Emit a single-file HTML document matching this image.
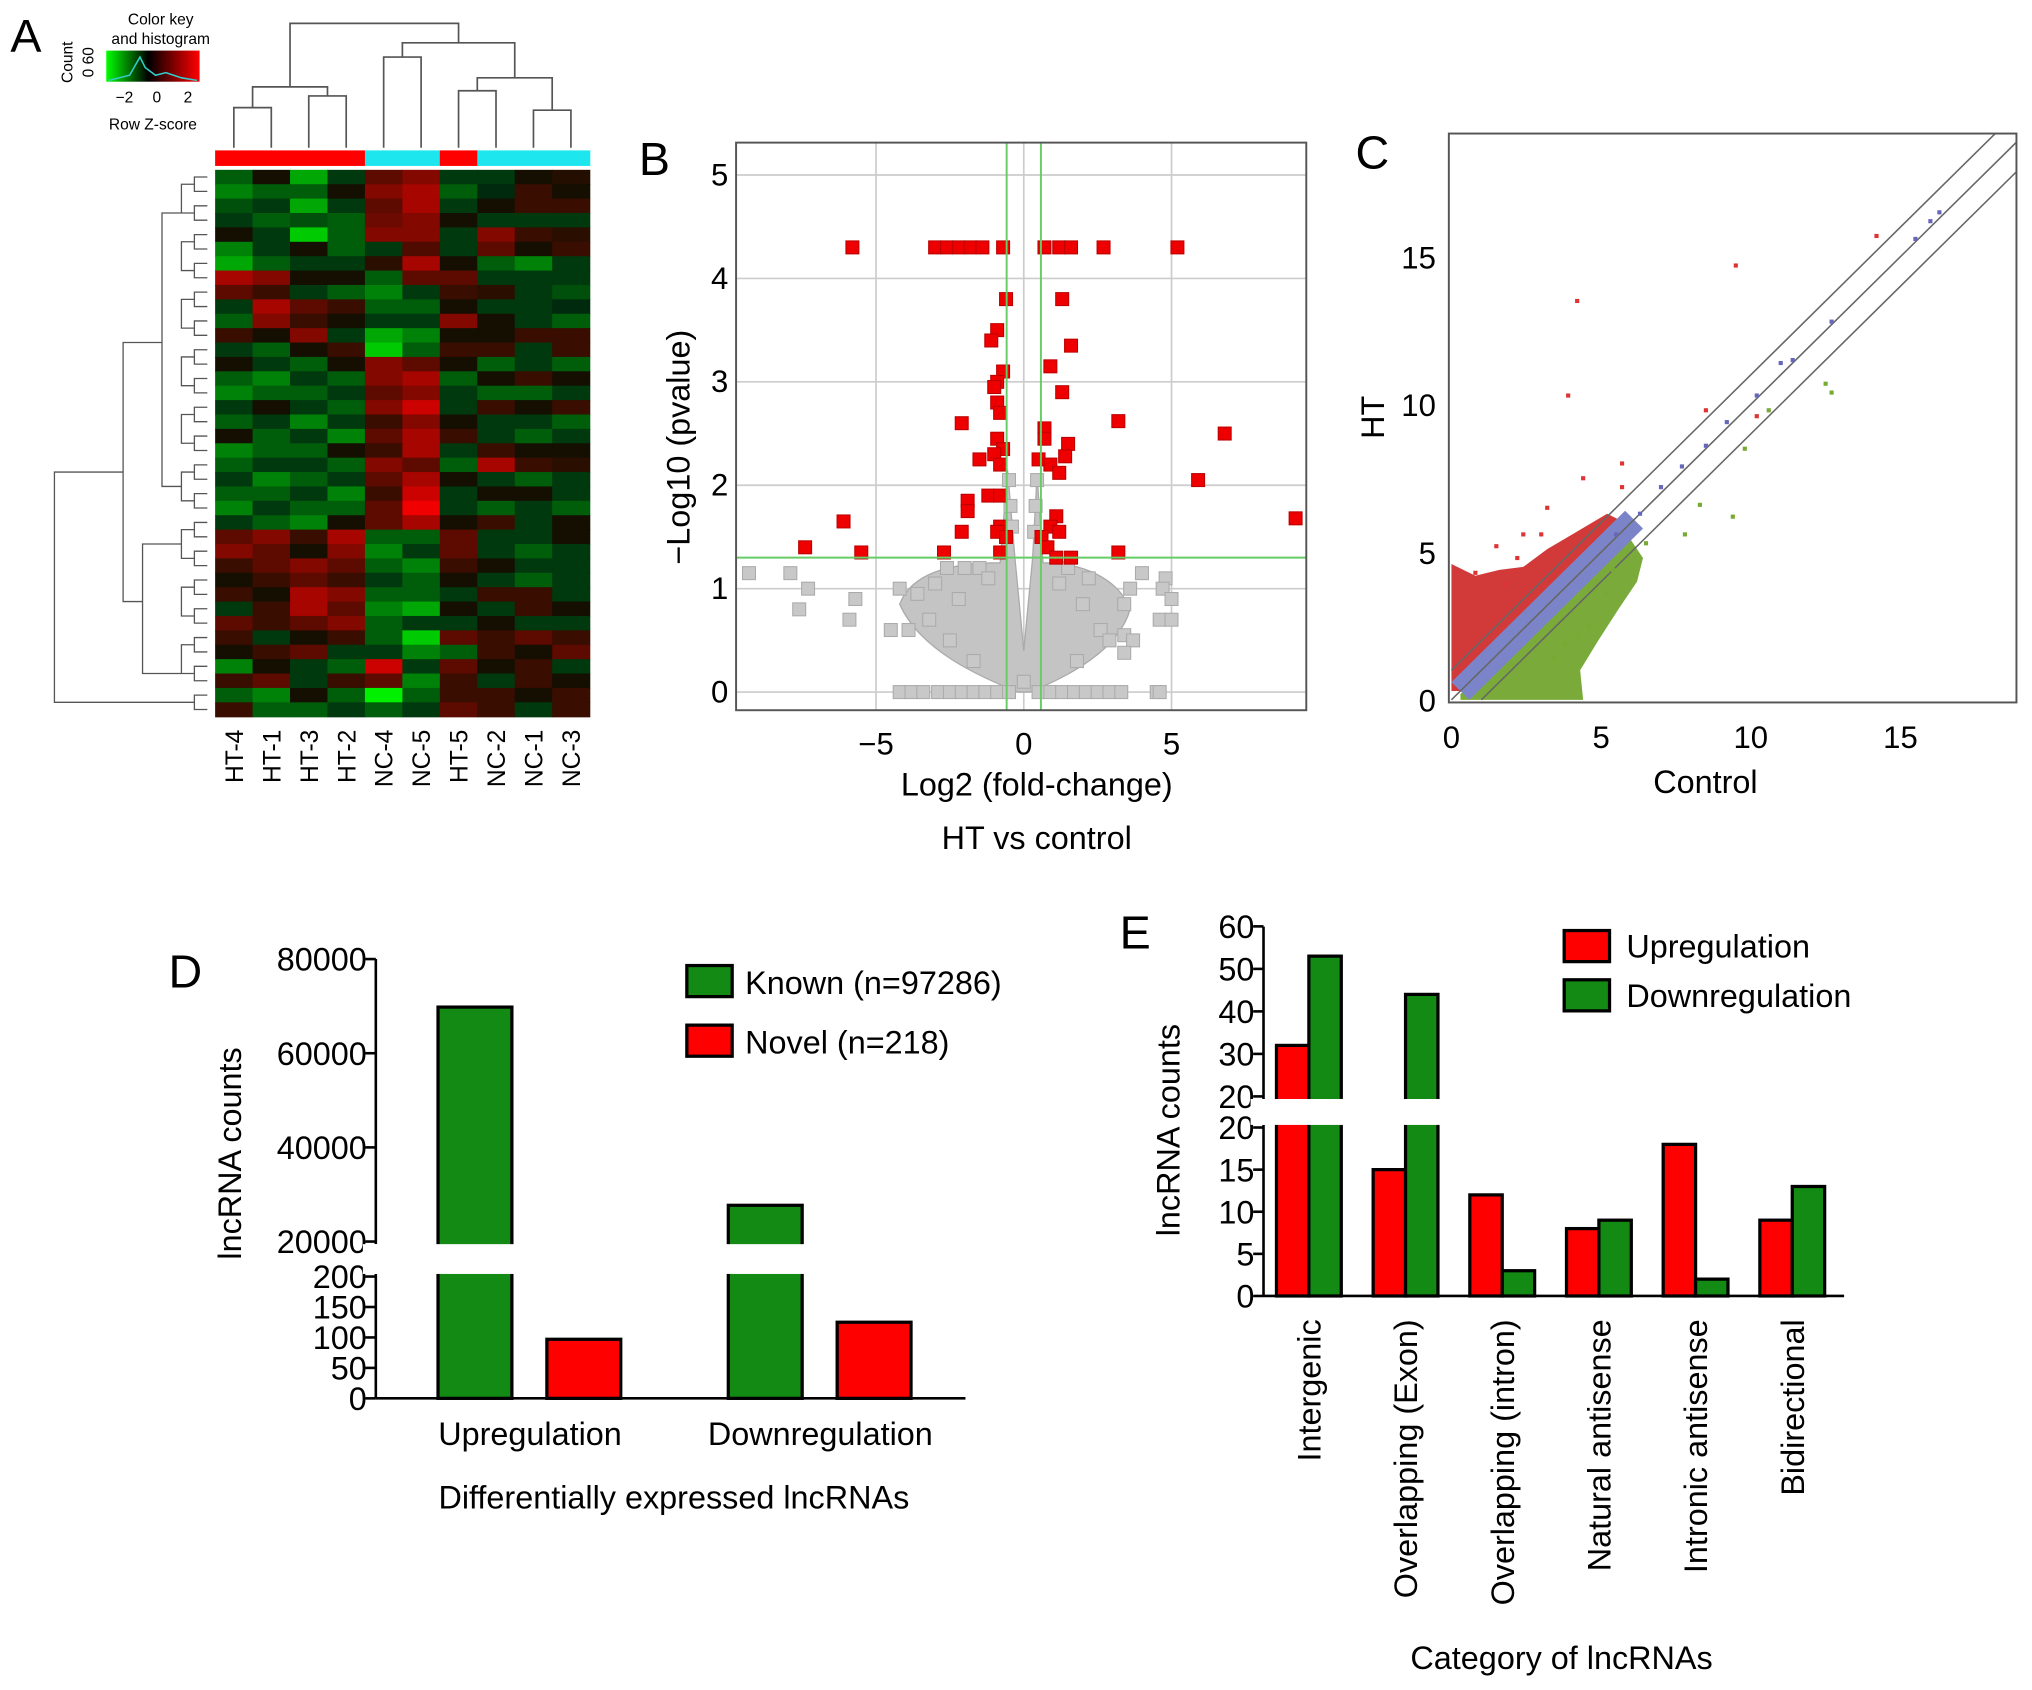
<!DOCTYPE html>
<html><head><meta charset="utf-8"><style>
html,body{margin:0;padding:0;background:#fff;}
svg{display:block;font-family:"Liberation Sans",Arial,sans-serif;}
</style></head><body>
<svg id="fig" width="2032" height="1690" viewBox="0 0 1568 1304" xmlns="http://www.w3.org/2000/svg">
<rect width="1568" height="1304" fill="#fff"/>
<g id="A"></g>
<g id="B"></g>
<g id="C"></g>
<g id="D"></g>
<g id="E"></g>
</svg>
<script>
const NS="http://www.w3.org/2000/svg";
// ---------- DATA ----------
const heatCols=["HT-4","HT-1","HT-3","HT-2","NC-4","NC-5","HT-5","NC-2","NC-1","NC-3"];
const heatGroups=["HT","HT","HT","HT","NC","NC","HT","NC","NC","NC"];
const heatRows=[
[-1,0,-2,-0.5,1,1.5,-0.5,-0.5,0,0.2],
[-1.5,-1,-1,0,1.5,2,-1,-0.3,0.5,0],
[-0.8,-0.5,-2,-0.5,1,2,-0.5,0,0.5,0.5],
[-0.5,-1,-0.8,-1,1.2,1.5,0,-0.5,-0.5,-0.5],
[0,-0.5,-2.5,-1,1.5,1.5,-0.5,1.5,0.5,0.3],
[-1.5,-0.5,0,-1,-0.5,0.8,-0.5,1,0,0.5],
[-2,-1,-0.5,-0.5,0.3,2,0,-1,-1.5,-0.5],
[2,1.5,0,0,-1,1,1,-0.5,-0.5,-0.5],
[1,0.5,-0.5,-1,-1.5,-0.5,0.5,0.3,-0.5,-0.8],
[-0.5,2,1,0.5,-1,-1,0,-0.5,-0.5,-0.3],
[-1,1.5,0.5,0,-0.5,-0.5,1.5,0,-0.5,-1],
[0.5,0,1.5,-0.5,-2,-1.5,0,0,0.5,0.5],
[-0.5,-1,0,0.5,-2.5,-1,0.5,0.5,-0.5,0.5],
[0,-0.5,-1,0,1.5,1,0,-1,-0.5,-1],
[-1,-1.5,-0.5,-1,1.5,2,-1,0,0.5,0],
[-1.5,-1,-1,-0.5,1,1.5,-0.5,-1,-1,-0.5],
[-0.5,0,-0.5,-1,1.5,2.5,-0.5,0.5,0,0.5],
[-1,-0.5,-1.5,-0.5,0.5,1.5,0,-0.5,-0.5,-1],
[0,-1,-0.5,-1.5,1,2,0.5,-0.5,-1,-0.5],
[-1.5,-1,-1,0,0.5,2,-0.5,0.5,0,0],
[-1,-0.5,-0.5,-1,1.5,1,-1,2,0.5,0.3],
[-0.5,-1.5,-1,-0.5,1,2,0,-0.5,-1,-0.5],
[-1,-1,-0.5,-1.5,0.5,2.5,-0.5,0,0,-0.5],
[-1.5,-0.5,-1,-1,1,3,-0.5,-1,-0.5,-1],
[-0.5,-1,-1.5,0,1,2,0,0.5,-0.5,0],
[1,1.5,0.5,2,-1,-1,1,-0.5,-0.5,0],
[1.5,1,0,1.5,-1.5,-0.5,1,-0.5,-1,-0.5],
[0.5,1,1.5,1,-1,-1.5,0.5,0,-0.5,-0.5],
[0,0.5,1,0.5,-0.5,-1,0,-0.5,-1,-0.5],
[0.5,0,2,1.5,-1,-1,-0.5,0.5,0.5,-0.5],
[-0.5,0.5,2,1,-1.5,-2,0,-0.5,0.5,0],
[1,0.5,1,1.5,-1,-0.5,-0.5,0,-0.5,-0.5],
[0.5,-0.5,0,0.5,-1,-2.5,1,0.5,1,0.5],
[0,0.5,1,-0.5,-0.5,-1.5,-1,0.5,0,1],
[-1.5,0,-0.5,-1,2.5,-0.5,1,0,0.5,-0.5],
[0.5,1,-0.5,0.5,1,-1.5,0.5,-0.5,0.5,0],
[-1,-1.5,0,-1,-3,-1,0.5,0.5,0,0.5],
[0.5,-1,-1,-0.5,-1,-0.5,1,0.5,-0.5,0.5]
];
// volcano: [log2FC, -log10p]
const volcanoSig=[[-5.8,4.3],[-3,4.3],[-2.6,4.3],[-2.2,4.3],[-1.8,4.3],[-1.4,4.3],[-0.7,4.3],[0.7,4.3],[1.2,4.3],[1.6,4.3],[2.7,4.3],[5.2,4.3],
[-0.6,3.8],[1.3,3.8],[-0.9,3.5],[-1.1,3.4],[1.6,3.35],[0.9,3.15],[-0.7,3.1],[-0.9,3],[-1,2.95],[1.3,2.9],[-2.1,2.6],[3.2,2.62],[6.8,2.5],
[-0.9,2.8],[-0.8,2.7],[0.7,2.55],[0.7,2.45],[1.5,2.4],[-0.9,2.45],[-0.7,2.35],[-1,2.3],[-1.5,2.25],[1.4,2.28],[0.5,2.25],[0.9,2.2],[1.2,2.12],[-0.8,2.2],[5.9,2.05],
[-1.9,1.85],[-1.2,1.9],[-0.8,1.9],[-1.9,1.75],[-0.8,1.6],[1.1,1.7],[0.9,1.6],[1.2,1.55],[-6.1,1.65],[-2.1,1.55],[-0.9,1.55],[0.6,1.5],[9.2,1.68],
[-7.4,1.4],[-5.5,1.35],[-2.7,1.35],[-0.8,1.35],[0.8,1.4],[1.1,1.3],[3.2,1.35],[1.6,1.3],[-0.6,1.5]];
const volcanoNS=[[-9.3,1.15],[-7.9,1.15],[-7.3,1],[-7.6,0.8],[-5.7,0.9],[-5.9,0.7],[-3.9,0.6],[-4.5,0.6],[-4.2,1],[-3.6,0.95],[-3,1.05],[-2.6,1.2],
[4,1.15],[4.8,1.1],[3.6,1],[4.7,1],[5,0.9],[3.4,0.85],[4.6,0.7],[5,0.7],[3.4,0.55],[3.7,0.5],[3.4,0.38],
[-2,1.2],[-1.5,1.2],[1.5,1.2],[2.2,1.1],[-3.2,0.7],[-2.5,0.5],[2.6,0.6],[2.9,0.5],[1.8,0.3],[-1.7,0.3],[0,0.1],[4.5,0],
[-0.5,2.05],[-0.45,1.8],[-0.4,1.6],[0.45,2.05],[0.4,1.8],[0.35,1.55],[-1.2,1.1],[1.2,1.05],[-2.2,0.9],[2,0.85]];
const volcanoZero=[-4.2,-3.8,-3.4,-2.9,-2.5,-2.1,-1.7,-1.3,-0.9,-0.5,0.5,0.9,1.3,1.7,2.1,2.5,2.9,3.3,4.6];
// scatter C: [control, HT]
const scatterUp=[[14.2,15.7],[9.5,14.7],[4.2,13.5],[3.9,10.3],[8.5,9.8],[10.2,9.6],[5.7,8],[4.4,7.5],[3.2,6.5],[2.4,5.6],[1.5,5.2],[3,5.6],[2.2,4.8],[0.8,4.3],[5.7,7.2],[1.8,3.9]];
const scatterDown=[[12.7,10.4],[12.5,10.7],[10.6,9.8],[9.8,8.5],[9.4,6.2],[8.3,6.6],[7.8,5.6],[6.5,5.3],[5.4,4.4],[4.6,2.5],[3.8,1.9],[5.2,3.6],[3.4,1.4],[4.2,2.2]];
const scatterMid=[[15.5,15.6],[16.3,16.5],[11.4,11.5],[11,11.4],[10.2,10.3],[9.2,9.4],[8.5,8.6],[7.7,7.9],[7,7.2],[6.3,6.3],[5.5,5.6],[16,16.2],[12.7,12.8]];
// panel D
const dCats=["Upregulation","Downregulation"];
const dKnown=[69800,27700];
const dNovel=[97,125];
const dTicksUpper=[20000,40000,60000,80000];
const dTicksLower=[0,50,100,150,200];
// panel E
const eCats=["Intergenic","Overlapping (Exon)","Overlapping (intron)","Natural antisense","Intronic antisense","Bidirectional"];
const eUp=[32,15,12,8,18,9];
const eDown=[53,44,3,9,2,13];
const eTicksUpper=[20,30,40,50,60];
const eTicksLower=[0,5,10,15,20];

// ---------- helpers ----------
function mk(parent,tag,attrs,text){const e=document.createElementNS(NS,tag);for(const k in attrs)e.setAttribute(k,attrs[k]);if(text!==undefined)e.textContent=text;parent.appendChild(e);return e;}
function zColor(v){v=Math.max(-3,Math.min(3,v));const t=Math.abs(v)/3;const c=Math.round(20+220*t);return v>=0?`rgb(${c},${Math.round(15*(1-t))},0)`:`rgb(0,${c},${Math.round(15*(1-t))})`;}

// ---------- A ----------
(function(){
const g=document.getElementById('A');
let t=mk(g,'text',{x:8,y:40,'font-size':36},'A');

const x0=166,x1=455,y0=131,y1=553,cw=(x1-x0)/heatCols.length,rh=(y1-y0)/heatRows.length;
heatRows.forEach((row,r)=>row.forEach((v,c)=>{
 const e=mk(g,'rect',{x:x0+c*cw,y:y0+r*rh,width:cw+0.5,height:rh+0.5,fill:zColor(v)});
 
}));
heatGroups.forEach((gr,c)=>{
 const e=mk(g,'rect',{x:x0+c*cw,y:116,width:cw+0.5,height:12,fill:gr==='HT'?'#f00':'#1ee6ee'});
 
});
heatCols.forEach((n,c)=>{
 const cx=x0+c*cw+cw/2;
 const e=mk(g,'text',{x:0,y:0,'font-size':19,'text-anchor':'end',transform:`translate(${cx+7},563) rotate(-90)`},n);
 
});
const cxs=heatCols.map((_,c)=>x0+c*cw+cw/2);
const d=mk(g,'path',{fill:'none',stroke:'#555','stroke-width':1.3,d:
`M${cxs[0]},114V83H${cxs[1]}V114 M${cxs[2]},114V74H${cxs[3]}V114 M${(cxs[0]+cxs[1])/2},83V67H${(cxs[2]+cxs[3])/2}V74
M${cxs[4]},114V44H${cxs[5]}V114 M${cxs[6]},114V70H${cxs[7]}V114 M${cxs[8]},114V85H${cxs[9]}V114
M${(cxs[6]+cxs[7])/2},70V60H${(cxs[8]+cxs[9])/2}V85 M${(cxs[4]+cxs[5])/2},44V33H${((cxs[6]+cxs[7])/2+(cxs[8]+cxs[9])/2)/2}V60
M${(cxs[0]+cxs[1]+cxs[2]+cxs[3])/4},67V18H${((cxs[4]+cxs[5])/2+((cxs[6]+cxs[7])/2+(cxs[8]+cxs[9])/2)/2)/2}V33`});

let p='';
const leaves=heatRows.length;
for(let i=0;i<leaves;i+=2){const ya=y0+i*rh+rh/2,yb=y0+(i+1)*rh+rh/2;p+=`M160,${ya}H150V${yb}H160 `;}
for(let i=0;i<leaves;i+=4){const ya=y0+(i+1)*rh,yb=y0+Math.min(i+3,leaves-1)*rh;p+=`M150,${ya}H140V${yb}H150 `;}
p+=`M140,${y0+3*rh}H125V${y0+22*rh}H140 M140,${y0+26*rh}H110V${y0+35*rh}H140 M125,${y0+12*rh}H95V${y0+30*rh}H110 M95,${y0+21*rh}H42V${y0+37*rh}H140`;
const ld=mk(g,'path',{fill:'none',stroke:'#555','stroke-width':1,d:p});

const key=mk(g,'g',{});
const defs=mk(key,'defs',{});const lg=mk(defs,'linearGradient',{id:'kg'});
mk(lg,'stop',{offset:'0','stop-color':'#00ff00'});mk(lg,'stop',{offset:'0.45','stop-color':'#000'});mk(lg,'stop',{offset:'1','stop-color':'#ff0000'});
mk(key,'rect',{x:82,y:39,width:72,height:24,fill:'url(#kg)'});
mk(key,'path',{d:'M84,62 L100,58 L108,44 L112,52 L120,58 L128,56 L140,60 L152,62',fill:'none',stroke:'#3cc','stroke-width':1.2});
mk(key,'text',{x:124,y:19,'font-size':12,'text-anchor':'middle'},'Color key');
mk(key,'text',{x:124,y:34,'font-size':12,'text-anchor':'middle'},'and histogram');
mk(key,'text',{x:118,y:100,'font-size':12,'text-anchor':'middle'},'Row Z-score');
[[-2,96],[0,121],[2,145]].forEach(([v,x])=>mk(key,'text',{x:x,y:79,'font-size':12,'text-anchor':'middle'},v===-2?'−2':String(v)));
mk(key,'text',{x:0,y:0,'font-size':12,'text-anchor':'middle',transform:'translate(56,48) rotate(-90)'},'Count');
mk(key,'text',{x:0,y:0,'font-size':12,'text-anchor':'middle',transform:'translate(72,48) rotate(-90)'},'0  60');
})();

// ---------- B ----------
(function(){
const g=document.getElementById('B');
const L=568,R=1008,T=110,Bt=548;
const sx=v=>790+v*22.8, sy=v=>534-v*79.8;
let t=mk(g,'text',{x:493,y:135,'font-size':36},'B');
[0,1,2,3,4,5].forEach(v=>{mk(g,'line',{x1:L,x2:R,y1:sy(v),y2:sy(v),stroke:'#ccc','stroke-width':1.3});
 const e=mk(g,'text',{x:562,y:sy(v)+8,'font-size':24,'text-anchor':'end'},String(v));});
[-5,0,5].forEach(v=>{mk(g,'line',{x1:sx(v),x2:sx(v),y1:T,y2:Bt,stroke:'#ccc','stroke-width':1.3});
 const e=mk(g,'text',{x:sx(v),y:582,'font-size':24,'text-anchor':'middle'},v<0?'−5':String(v));});
const P=(a,b)=>`${sx(a)},${sy(b)}`;
const cloud=mk(g,'path',{d:`M${P(-4.2,0.85)} C${P(-3.8,1.15)} ${P(-2.5,1.25)} ${P(-0.8,1.25)} L${P(-0.55,2.15)} L${P(-0.3,1.3)} L${P(0,0.4)} L${P(0.3,1.3)} L${P(0.45,2.1)} L${P(0.65,1.25)} C${P(2,1.25)} ${P(3.2,1.1)} ${P(3.6,0.8)} C${P(3.2,0.4)} ${P(1.5,0.15)} ${P(0.2,0)} L${P(-0.2,0)} C${P(-1.5,0.15)} ${P(-3.5,0.4)} ${P(-4.2,0.85)}Z`,fill:'#c4c4c4',stroke:'#aaa'});

const sq=(x,y,c,s)=>mk(g,'rect',{x:sx(x)-5,y:sy(y)-5,width:10,height:10,fill:c,stroke:s,'stroke-width':0.8});
volcanoNS.forEach(p=>{const e=sq(p[0],p[1],'#c8c8c8','#aaa');});
volcanoZero.forEach(x=>{const e=sq(x,0,'#c8c8c8','#aaa');});
volcanoSig.forEach(p=>{const e=sq(p[0],p[1],'#e00','#b00');});
mk(g,'line',{x1:L,x2:R,y1:sy(1.3),y2:sy(1.3),stroke:'#6c6','stroke-width':1.5});
mk(g,'line',{x1:sx(-0.58),x2:sx(-0.58),y1:T,y2:Bt,stroke:'#6c6','stroke-width':1.5});
mk(g,'line',{x1:sx(0.58),x2:sx(0.58),y1:T,y2:Bt,stroke:'#6c6','stroke-width':1.5});
mk(g,'rect',{x:L,y:T,width:R-L,height:Bt-T,fill:'none',stroke:'#555','stroke-width':1.5});
let e=mk(g,'text',{x:800,y:614,'font-size':25,'text-anchor':'middle'},'Log2 (fold-change)');
e=mk(g,'text',{x:800,y:655,'font-size':25,'text-anchor':'middle'},'HT vs control');
e=mk(g,'text',{x:0,y:0,'font-size':25,'text-anchor':'middle',transform:'translate(532,345) rotate(-90)'},'−Log10 (pvalue)');
})();

// ---------- C ----------
(function(){
const g=document.getElementById('C');
const L=1118,R=1556,T=103,Bt=542;
const sx=v=>1120+v*23.1, sy=v=>540-v*22.8;
const P=(a,b)=>`${sx(a)},${sy(b)}`;
let t=mk(g,'text',{x:1046,y:130,'font-size':36},'C');
const clip=mk(mk(g,'defs',{}),'clipPath',{id:'cc'});mk(clip,'rect',{x:L,y:T,width:R-L,height:Bt-T});
const cg=mk(g,'g',{'clip-path':'url(#cc)'});
let e=mk(cg,'path',{d:`M${P(0,0.3)} L${P(0,4.6)} L${P(0.8,4.2)} L${P(1.6,4.4)} L${P(2.4,4.5)} L${P(3.2,5.1)} L${P(4.2,5.7)} L${P(5.2,6.3)} L${P(5.6,6.1)} L${P(5.6,5.6)} L${P(0.3,0.3)}Z`,fill:'#d23a3a'});

e=mk(cg,'path',{d:`M${P(0.3,0)} L${P(4.4,0)} L${P(4.3,1)} L${P(4.9,2)} L${P(5.6,3.1)} L${P(6.2,4)} L${P(6.4,4.8)} L${P(6,5.4)} L${P(5.6,5.3)} L${P(0.3,0.2)}Z`,fill:'#7aab3a'});

e=mk(cg,'path',{d:`M${P(0,0.6)} L${P(0.6,0)} L${P(6.4,5.8)} L${P(5.8,6.4)} Z`,fill:'#7b84c8'});

[[0,0],[0,1],[1,0]].forEach(([a,b])=>mk(cg,'line',{x1:sx(0+a),y1:sy(0+b),x2:sx(20+a),y2:sy(20+b),stroke:'#666','stroke-width':1.2}));
const dot=(p,c)=>mk(g,'rect',{x:sx(p[0])-1.6,y:sy(p[1])-1.6,width:3.2,height:3.2,fill:c});
scatterUp.forEach(p=>{const e=dot(p,'#d33');});
scatterDown.forEach(p=>{const e=dot(p,'#7a3');});
scatterMid.forEach(p=>{const e=dot(p,'#66b');});
mk(g,'rect',{x:L,y:T,width:R-L,height:Bt-T,fill:'none',stroke:'#555','stroke-width':1.5});
[0,5,10,15].forEach(v=>{
 e=mk(g,'text',{x:1108,y:sy(v)+9,'font-size':24,'text-anchor':'end'},String(v));
 e=mk(g,'text',{x:sx(v),y:577,'font-size':24,'text-anchor':'middle'},String(v));
});
e=mk(g,'text',{x:1316,y:612,'font-size':25,'text-anchor':'middle'},'Control');
e=mk(g,'text',{x:0,y:0,'font-size':25,'text-anchor':'middle',transform:'translate(1068,322) rotate(-90)'},'HT');
})();

// ---------- D ----------
(function(){
const g=document.getElementById('D');
const ax=290, yU=v=>958-(v-20000)*0.003633, yL=v=>1079-v*0.47;
let t=mk(g,'text',{x:130,y:762,'font-size':36},'D');
mk(g,'line',{x1:ax,x2:ax,y1:740,y2:960,stroke:'#000','stroke-width':2});
mk(g,'line',{x1:ax,x2:ax,y1:983,y2:1079,stroke:'#000','stroke-width':2});
mk(g,'line',{x1:ax,x2:745,y1:1079,y2:1079,stroke:'#000','stroke-width':2});
dTicksUpper.forEach(v=>{mk(g,'line',{x1:ax-8,x2:ax,y1:yU(v),y2:yU(v),stroke:'#000','stroke-width':2});
 const e=mk(g,'text',{x:283,y:yU(v)+9,'font-size':25,'text-anchor':'end'},String(v));});
dTicksLower.forEach(v=>{mk(g,'line',{x1:ax-8,x2:ax,y1:yL(v),y2:yL(v),stroke:'#000','stroke-width':2});
 const e=mk(g,'text',{x:283,y:yL(v)+9,'font-size':25,'text-anchor':'end'},String(v));});
const gx=[338,562];
dCats.forEach((c,i)=>{
 const top=dKnown[i]>200?yU(dKnown[i]):yL(dKnown[i]);
 let e=mk(g,'rect',{x:gx[i],y:top,width:57,height:1079-top,fill:'#138a13',stroke:'#000','stroke-width':2.5});
 
 const nt=yL(dNovel[i]);
 e=mk(g,'rect',{x:gx[i]+84,y:nt,width:57,height:1079-nt,fill:'#f00',stroke:'#000','stroke-width':2.5});
 
 e=mk(g,'text',{x:gx[i]+71,y:1115,'font-size':25,'text-anchor':'middle'},c);
});
mk(g,'rect',{x:280,y:960,width:470,height:23,fill:'#fff'});
let e=mk(g,'rect',{x:530,y:745,width:35,height:24,fill:'#138a13',stroke:'#000','stroke-width':2.5});
e=mk(g,'text',{x:575,y:767,'font-size':25},'Known (n=97286)');
e=mk(g,'rect',{x:530,y:791,width:35,height:24,fill:'#f00',stroke:'#000','stroke-width':2.5});
e=mk(g,'text',{x:575,y:813,'font-size':25},'Novel (n=218)');
e=mk(g,'text',{x:520,y:1164,'font-size':25,'text-anchor':'middle'},'Differentially expressed lncRNAs');
e=mk(g,'text',{x:0,y:0,'font-size':25,'text-anchor':'middle',transform:'translate(186,890) rotate(-90)'},'lncRNA counts');
})();

// ---------- E ----------
(function(){
const g=document.getElementById('E');
const ax=975, yU=v=>846-(v-20)*3.28, yL=v=>1000-v*6.5;
let t=mk(g,'text',{x:864,y:732,'font-size':36},'E');
mk(g,'line',{x1:ax,x2:ax,y1:715,y2:848,stroke:'#000','stroke-width':2});
mk(g,'line',{x1:ax,x2:ax,y1:868,y2:1000,stroke:'#000','stroke-width':2});
mk(g,'line',{x1:ax,x2:1423,y1:1000,y2:1000,stroke:'#000','stroke-width':2});
eTicksUpper.forEach(v=>{mk(g,'line',{x1:ax-8,x2:ax,y1:yU(v),y2:yU(v),stroke:'#000','stroke-width':2});
 const e=mk(g,'text',{x:968,y:yU(v)+9,'font-size':25,'text-anchor':'end'},String(v));});
eTicksLower.forEach(v=>{mk(g,'line',{x1:ax-8,x2:ax,y1:yL(v),y2:yL(v),stroke:'#000','stroke-width':2});
 const e=mk(g,'text',{x:968,y:yL(v)+9,'font-size':25,'text-anchor':'end'},String(v));});
const yv=v=>v>20?yU(v):yL(v);
eCats.forEach((c,i)=>{
 const x=985+i*74.6;
 let top=yv(eUp[i]);
 let e=mk(g,'rect',{x:x,y:top,width:25,height:1000-top,fill:'#f00',stroke:'#000','stroke-width':2.5});
 
 top=yv(eDown[i]);
 e=mk(g,'rect',{x:x+25,y:top,width:25,height:1000-top,fill:'#138a13',stroke:'#000','stroke-width':2.5});
 
 e=mk(g,'text',{x:0,y:0,'font-size':25,'text-anchor':'end',transform:`translate(${x+34},1018) rotate(-90)`},c);
 
});
mk(g,'rect',{x:965,y:848,width:460,height:20,fill:'#fff'});
let e=mk(g,'rect',{x:1207,y:718,width:35,height:24,fill:'#f00',stroke:'#000','stroke-width':2.5});
e=mk(g,'text',{x:1255,y:739,'font-size':25},'Upregulation');
e=mk(g,'rect',{x:1207,y:756,width:35,height:24,fill:'#138a13',stroke:'#000','stroke-width':2.5});
e=mk(g,'text',{x:1255,y:777,'font-size':25},'Downregulation');
e=mk(g,'text',{x:1205,y:1288,'font-size':25,'text-anchor':'middle'},'Category of lncRNAs');
e=mk(g,'text',{x:0,y:0,'font-size':25,'text-anchor':'middle',transform:'translate(910,872) rotate(-90)'},'lncRNA counts');
})();
</script>
</body></html>
